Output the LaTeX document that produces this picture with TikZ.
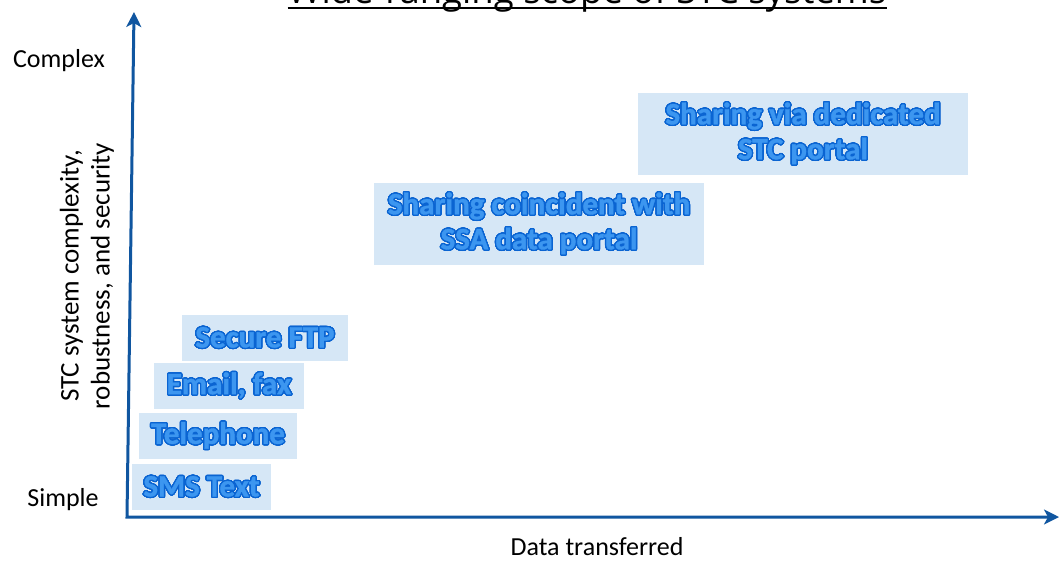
\documentclass[tikz,border=0pt]{standalone}
\usepackage{fontspec}
\setmainfont{Carlito}
\newfontfamily\titlefont{Open Sans}
\newfontfamily\boxfont{Carlito}[BoldFeatures={FakeBold=1.2}]
\usepackage{contour}
\contourlength{1.3pt}
\contournumber{32}
\usetikzlibrary{arrows.meta}
\definecolor{axisblue}{RGB}{16,86,160}
\definecolor{boxfill}{RGB}{214,231,246}
\definecolor{txtfill}{RGB}{60,150,240}
\definecolor{txtline}{RGB}{10,100,210}
\newcommand\otext[1]{\contour{txtline}{\textcolor{txtfill}{#1}}}
\tikzset{
  axis/.style={draw=axisblue, line width=3pt, line join=miter,
    {Stealth[length=15pt,width=15pt,inset=4pt]}-{Stealth[length=15pt,width=15pt,inset=4pt]}},
  lab/.style={font=\fontsize{26}{31}\selectfont, inner sep=0pt, text=black},
  tbox/.style={fill=boxfill, inner sep=0pt, align=center,
    font=\boxfont\bfseries\fontsize{31}{35}\selectfont},
  bigbox/.style={tbox, minimum width=330pt, minimum height=82pt},
}
\begin{document}
\begin{tikzpicture}[x=1pt,y=-1pt]
\useasboundingbox (0,0) rectangle (1059,560);
\clip (0,0) rectangle (1059,560);

% title (cut off at top)
\node[anchor=base, inner sep=0pt, font=\titlefont\fontsize{36.5}{42}\selectfont] (title) at (587,3) {Wide-ranging scope of STC systems};
\coordinate (ul) at (0,8);
\draw[line width=2.5pt] (title.west |- ul) -- (title.east |- ul);

% axes
\coordinate (o) at (127,517);
\coordinate (ytop) at (134,12);
\coordinate (xend) at (1059,517);
\draw[axis] (ytop) -- (o) -- (xend);

% axis labels
\node[lab] (complex) at (59,61) {Complex};
\node[lab] (simple) at (63,500) {Simple};
\node[lab] (data) at (597,547) {Data transferred};
\node[lab, rotate=90, align=center, font=\fontsize{27}{31}\selectfont] (ylab) at (87,276) {STC system complexity,\\robustness, and security};

% boxes
\node[tbox, minimum width=139pt, minimum height=46pt] (sms) at (201.5,487) {\otext{SMS Text}};
\node[tbox, minimum width=158pt, minimum height=46pt] (tel) at (218,436) {\otext{Telephone}};
\node[tbox, minimum width=150pt, minimum height=46pt] (mail) at (229,386) {\otext{Email, fax}};
\node[tbox, minimum width=166pt, minimum height=46pt] (ftp) at (265,338) {\otext{Secure FTP}};
\node[bigbox] (ssa) at (539,224) {\otext{Sharing coincident with}\\\otext{SSA data portal}};
\node[bigbox] (stc) at (803,134) {\otext{Sharing via dedicated}\\\otext{STC portal}};
\end{tikzpicture}
\end{document}
